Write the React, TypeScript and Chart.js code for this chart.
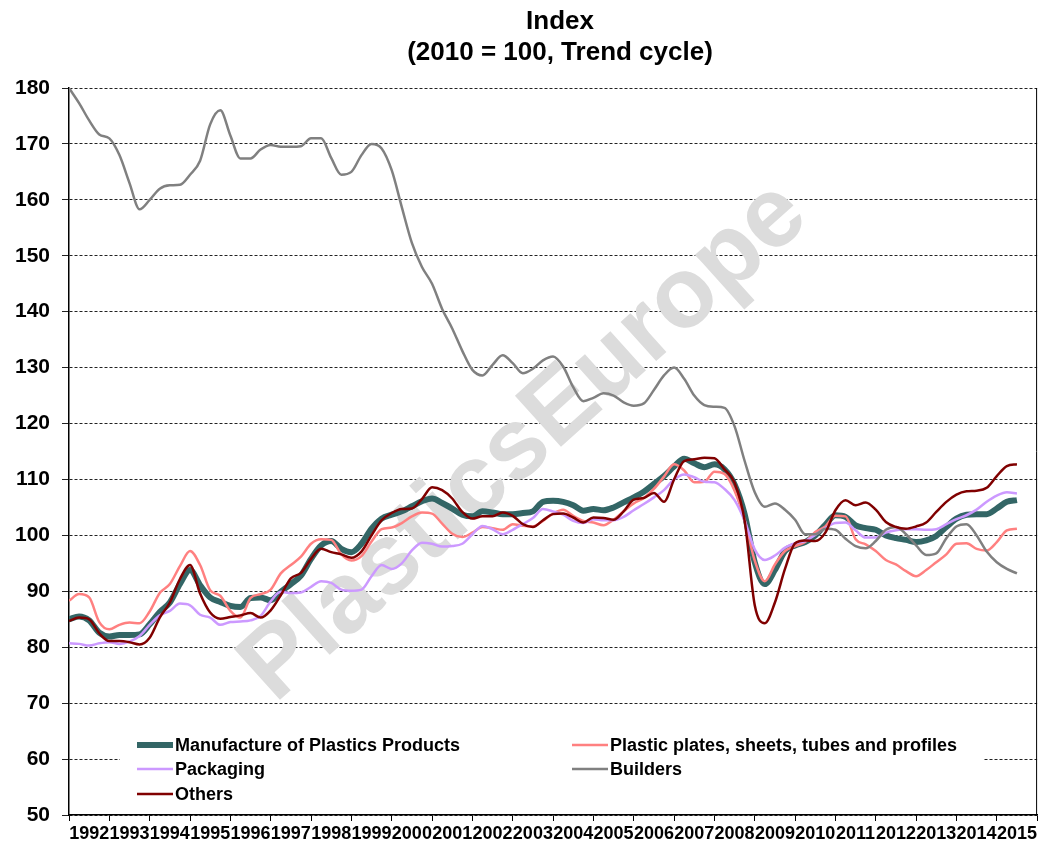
import React, { useEffect, useRef } from "react";
import { Chart, registerables } from "chart.js";

Chart.register(...registerables);

const years = ["1992","1993","1994","1995","1996","1997","1998","1999","2000","2001","2002","2003","2004","2005","2006","2007","2008","2009","2010","2011","2012","2013","2014","2015"];

// quarterly observations, first quarter of 1992 onward
const manufacture = [
  85.0, 85.5, 84.8, 82.6, 81.9, 82.2, 82.2, 82.3, 84.1, 86.3,
  88.0, 91.3, 93.8, 91.1, 88.9, 88.1, 87.4, 87.2, 88.8, 88.9,
  88.4, 89.9, 91.3, 92.8, 95.8, 98.2, 99.0, 97.6, 97.0, 98.5,
  101.2, 103.0, 103.7, 104.3, 105.2, 106.1, 106.6, 105.8, 104.8, 103.7,
  103.4, 104.3, 104.1, 103.8, 103.8, 104.0, 104.3, 106.0, 106.2, 106.0,
  105.4, 104.4, 104.7, 104.5, 105.0, 105.9, 106.8, 107.8, 109.2, 110.6,
  112.3, 113.7, 112.9, 112.2, 112.7, 111.8, 109.1, 103.8, 95.2, 91.3,
  93.8, 97.2, 98.2, 98.8, 100.0, 101.9, 103.6, 103.3, 101.8, 101.3,
  101.0, 100.0, 99.5, 99.2, 98.8, 99.1, 99.9, 101.5, 103.0, 103.7,
  103.8, 103.8, 104.8, 106.0, 106.3
];
const plates = [
  88.3, 89.5, 88.9, 84.5, 83.2, 84.0, 84.4, 84.3, 86.4, 89.7,
  91.3, 94.5, 97.2, 94.7, 90.2, 89.2, 86.5, 85.3, 88.8, 89.5,
  90.3, 93.2, 94.7, 96.2, 98.5, 99.3, 99.2, 96.6, 95.5, 96.3,
  98.9, 101.1, 101.4, 102.2, 103.4, 104.1, 103.9, 102.1, 100.3, 99.7,
  100.5, 101.5, 101.3, 101.0, 102.0, 101.7, 101.6, 102.6, 103.9, 104.6,
  103.5, 102.6, 102.3, 101.8, 102.8, 104.3, 105.7, 106.7, 108.3, 110.5,
  112.7, 111.6, 109.5, 109.6, 111.4, 111.0, 108.0, 102.8, 95.5, 91.8,
  94.8, 97.2, 98.1, 98.8, 100.6, 101.6, 103.5, 103.4, 99.3, 98.4,
  97.2, 95.6, 94.8, 93.6, 92.7, 93.8, 95.2, 96.6, 98.5, 98.6,
  97.6, 97.3, 98.8, 100.9, 101.2
];
const packaging = [
  80.7, 80.6, 80.3, 80.7, 80.9, 80.6, 81.0, 82.0, 84.0, 85.7,
  86.5, 87.8, 87.5, 85.8, 85.3, 84.0, 84.5, 84.6, 84.8, 85.6,
  88.2, 89.9, 89.7, 89.8, 90.8, 91.8, 91.5, 90.3, 90.1, 90.3,
  92.7, 94.7, 94.0, 95.0, 97.3, 98.7, 98.5, 98.0, 98.1, 98.5,
  100.2, 101.7, 101.1, 100.2, 101.0, 102.0, 103.1, 104.7, 104.3, 103.7,
  102.6, 102.2, 102.9, 102.7, 102.7, 103.3, 104.5, 105.6, 106.8, 108.1,
  110.0, 110.9, 110.4, 109.6, 109.5, 108.3, 106.3, 102.6, 97.5, 95.6,
  96.4, 97.8, 98.6, 99.0, 100.1, 101.3, 102.2, 102.3, 100.9, 99.6,
  99.6, 100.5, 100.9, 101.1, 101.1, 101.0, 101.1, 102.0, 102.9, 103.6,
  104.6, 106.0, 107.1, 107.7, 107.5
];
const builders = [
  180.0, 177.3, 174.2, 171.7, 171.0, 168.0, 163.0, 158.3, 160.0, 162.0,
  162.6, 162.7, 164.5, 167.0, 173.5, 176.0, 171.5, 167.4, 167.4, 169.0,
  169.8, 169.5, 169.5, 169.6, 171.0, 171.0, 167.5, 164.5, 165.0, 168.0,
  170.0, 169.2, 165.3, 158.7, 152.3, 148.0, 145.0, 140.5, 137.0, 133.0,
  129.6, 128.6, 130.5, 132.2, 130.8, 129.0, 129.8, 131.3, 132.0, 130.2,
  126.5, 124.0, 124.6, 125.4, 125.0, 123.8, 123.2, 123.6, 126.0, 128.6,
  130.0, 128.0, 125.0, 123.3, 123.0, 122.8, 119.5, 113.3, 107.7, 105.1,
  105.7, 104.6, 102.8, 100.2, 100.2, 101.2, 101.0, 99.4, 98.1, 97.7,
  99.0, 101.0, 101.5, 100.2, 98.2, 96.5, 96.8, 99.5, 101.6, 102.0,
  100.0, 97.1, 95.2, 94.0, 93.2
];
const others = [
  84.7, 85.3, 85.0, 82.5, 81.1, 81.1, 80.9, 80.5, 81.7, 85.3,
  88.0, 92.2, 94.7, 89.6, 86.2, 85.1, 85.4, 85.7, 86.1, 85.3,
  86.6, 89.3, 92.3, 93.3, 95.8, 97.6, 97.0, 96.6, 96.0, 97.1,
  100.0, 102.7, 104.0, 104.7, 104.8, 106.5, 108.6, 108.1, 106.6, 104.2,
  103.0, 103.4, 103.4, 104.1, 103.5, 102.0, 101.5, 102.7, 103.8, 103.9,
  103.2, 102.3, 103.2, 103.1, 102.8, 104.3, 106.4, 106.7, 107.6, 106.0,
  110.0, 113.3, 113.6, 113.9, 113.8, 111.8, 109.4, 102.6, 87.5, 84.3,
  88.0, 94.0, 98.6, 99.1, 99.0, 100.5, 104.5, 106.3, 105.4, 105.9,
  104.6, 102.4, 101.5, 101.2, 101.6, 102.3, 104.2, 106.0, 107.3, 107.9,
  108.0, 108.5, 110.6, 112.4, 112.7
];

const quarters = manufacture.map((_, i) => 1992 + i / 4);

const seriesNames = [
  "Manufacture of Plastics Products",
  "Plastic plates, sheets, tubes and profiles",
  "Packaging",
  "Builders",
  "Others",
];
const seriesValues = [manufacture, plates, packaging, builders, others];
const seriesColors = ["#336666", "#FF8080", "#CC99FF", "#808080", "#800000"];
const seriesWidths = [6, 2.5, 2.5, 2.5, 2.5];

const FONT = "'Liberation Sans', Arial, sans-serif";

const decorPlugin = {
  id: "decor",
  beforeDatasetsDraw(chart: any) {
    const ctx = chart.ctx;
    ctx.save();
    ctx.translate(525, 442);
    ctx.rotate((-42 * Math.PI) / 180);
    ctx.font = `bold 100px ${FONT}`;
    ctx.fillStyle = "#dcdcdc";
    ctx.textAlign = "center";
    ctx.textBaseline = "middle";
    ctx.fillText("PlasticsEurope", 0, 0);
    ctx.restore();
  },
  afterDraw(chart: any) {
    const ctx = chart.ctx;
    const area = chart.chartArea;
    ctx.save();
    ctx.strokeStyle = "#000";
    ctx.lineWidth = 1;
    ctx.beginPath();
    ctx.moveTo(area.right - 0.5, area.top);
    ctx.lineTo(area.right - 0.5, area.bottom);
    ctx.stroke();
    ctx.fillStyle = "#000";
    ctx.textAlign = "center";
    ctx.textBaseline = "middle";
    ctx.font = `bold 26px ${FONT}`;
    ctx.fillText("Index", 560, 22);
    ctx.fillText("(2010 = 100, Trend cycle)", 560, 53);
    ctx.fillStyle = "#fff";
    ctx.fillRect(120, 722, 863, 88);
    const pos = [
      [137, 745],
      [572, 745],
      [137, 769],
      [572, 769],
      [137, 794],
    ];
    ctx.font = `bold 18px ${FONT}`;
    ctx.textAlign = "left";
    seriesNames.forEach((name, i) => {
      const [x, y] = pos[i];
      ctx.strokeStyle = seriesColors[i];
      ctx.lineWidth = seriesWidths[i];
      ctx.lineCap = "butt";
      ctx.beginPath();
      ctx.moveTo(x, y);
      ctx.lineTo(x + 36, y);
      ctx.stroke();
      ctx.fillStyle = "#000";
      ctx.fillText(name, x + 38, y + 1);
    });
    ctx.restore();
  },
};

export default function App() {
  const ref = useRef<HTMLCanvasElement | null>(null);
  useEffect(() => {
    if (!ref.current) return;
    const chart = new Chart(ref.current, {
      type: "line",
      data: {
        datasets: seriesValues.map((vals, k) => ({
          label: seriesNames[k],
          data: vals.map((v, i) => ({ x: quarters[i], y: v })),
          borderColor: seriesColors[k],
          backgroundColor: seriesColors[k],
          borderWidth: seriesWidths[k],
          pointRadius: 0,
          cubicInterpolationMode: "monotone" as const,
          fill: false,
          order: 5 - k,
          xAxisID: "x",
        })),
      },
      options: {
        responsive: false,
        animation: false,
        layout: { padding: { left: 0, right: 1, top: 88, bottom: 0 } },
        plugins: {
          legend: { display: false },
          title: { display: false },
          tooltip: { enabled: false },
        },
        scales: {
          x: {
            type: "linear",
            display: false,
            min: 1992,
            max: 2016,
          },
          xc: {
            type: "category",
            labels: years,
            position: "bottom",
            offset: true,
            grid: {
              offset: true,
              drawOnChartArea: false,
              drawTicks: true,
              tickLength: 6,
              color: "#000",
            },
            border: { display: true, color: "#000", width: 1.5 },
            ticks: {
              autoSkip: false,
              maxRotation: 0,
              minRotation: 0,
              padding: 2,
              color: "#000",
              font: { family: FONT, size: 18, weight: "bold" },
            },
            afterFit: (s: any) => {
              s.height = 28;
            },
          },
          y: {
            min: 50,
            max: 180,
            ticks: {
              stepSize: 10,
              padding: 12,
              color: "#000",
              font: { family: FONT, size: 21, weight: "bold" },
            },
            grid: {
              color: "#222",
              lineWidth: 1,
              tickLength: 7,
            },
            border: { display: true, color: "#000", width: 1.5, dash: [3, 2] },
            afterFit: (s: any) => {
              s.width = 69;
            },
          },
        },
      } as any,
      plugins: [decorPlugin],
    });
    return () => chart.destroy();
  }, []);
  return (
    <div style={{ position: "absolute", left: 0, top: 0, width: 1039, height: 843, background: "#fff" }}>
      <canvas ref={ref} width={1039} height={843} />
    </div>
  );
}
